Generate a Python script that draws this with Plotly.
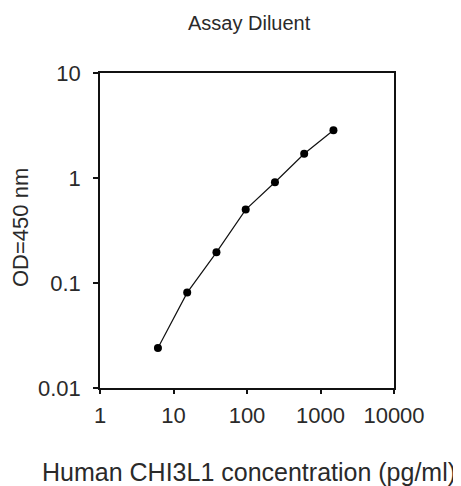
import plotly.graph_objects as go

concentration = [6.14, 15.36, 38.4, 96, 240, 600, 1500]
od450 = [0.024, 0.081, 0.196, 0.50, 0.91, 1.70, 2.85]

x_ticks = [1, 10, 100, 1000, 10000]
x_tick_labels = ["1", "10", "100", "1000", "10000"]
y_ticks = [0.01, 0.1, 1, 10]
y_tick_labels = ["0.01", "0.1", "1", "10"]

FONT = "Liberation Sans, Arial, sans-serif"
TXT = "#2a2a2a"

fig = go.Figure()
fig.add_trace(go.Scatter(
    x=concentration, y=od450, mode="lines+markers",
    line=dict(color="#111111", width=1.2),
    marker=dict(color="#000000", size=8, symbol="circle"),
    showlegend=False,
))

fig.update_layout(
    width=453, height=478,
    margin=dict(l=92, r=67, t=65, b=98),
    paper_bgcolor="white", plot_bgcolor="white",
    font=dict(family=FONT, color=TXT, size=20),
    xaxis=dict(
        type="log", range=[0, 4],
        tickvals=x_ticks, ticktext=x_tick_labels,
        ticks="outside", ticklen=4, tickwidth=1.5, tickcolor="#111",
        showline=True, linecolor="#111", linewidth=1.6, mirror=True,
        showgrid=False, zeroline=False,
        tickfont=dict(size=22, color=TXT),
        ticklabelstandoff=3,
    ),
    yaxis=dict(
        type="log", range=[-2, 1],
        tickvals=y_ticks, ticktext=y_tick_labels,
        ticks="outside", ticklen=5, tickwidth=1.5, tickcolor="#111",
        showline=True, linecolor="#111", linewidth=1.6, mirror=True,
        showgrid=False, zeroline=False,
        tickfont=dict(size=22, color=TXT),
        ticklabelstandoff=8,
    ),
    annotations=[
        dict(text="Assay Diluent", xref="paper", yref="paper",
             x=(249 - 100) / 294, y=(388 - 23) / 315,
             xanchor="center", yanchor="middle", showarrow=False,
             font=dict(size=20, color=TXT, family=FONT)),
        dict(text="Human CHI3L1 concentration (pg/ml)", xref="paper", yref="paper",
             x=(249 - 100) / 294, y=(388 - 472) / 315,
             xanchor="center", yanchor="middle", showarrow=False,
             font=dict(size=25, color=TXT, family=FONT)),
        dict(text="OD=450 nm", xref="paper", yref="paper",
             x=(20 - 100) / 294, y=(388 - 227) / 315,
             xanchor="center", yanchor="middle", showarrow=False, textangle=-90,
             font=dict(size=22, color=TXT, family=FONT)),
    ],
)

fig.write_html("out.html")
